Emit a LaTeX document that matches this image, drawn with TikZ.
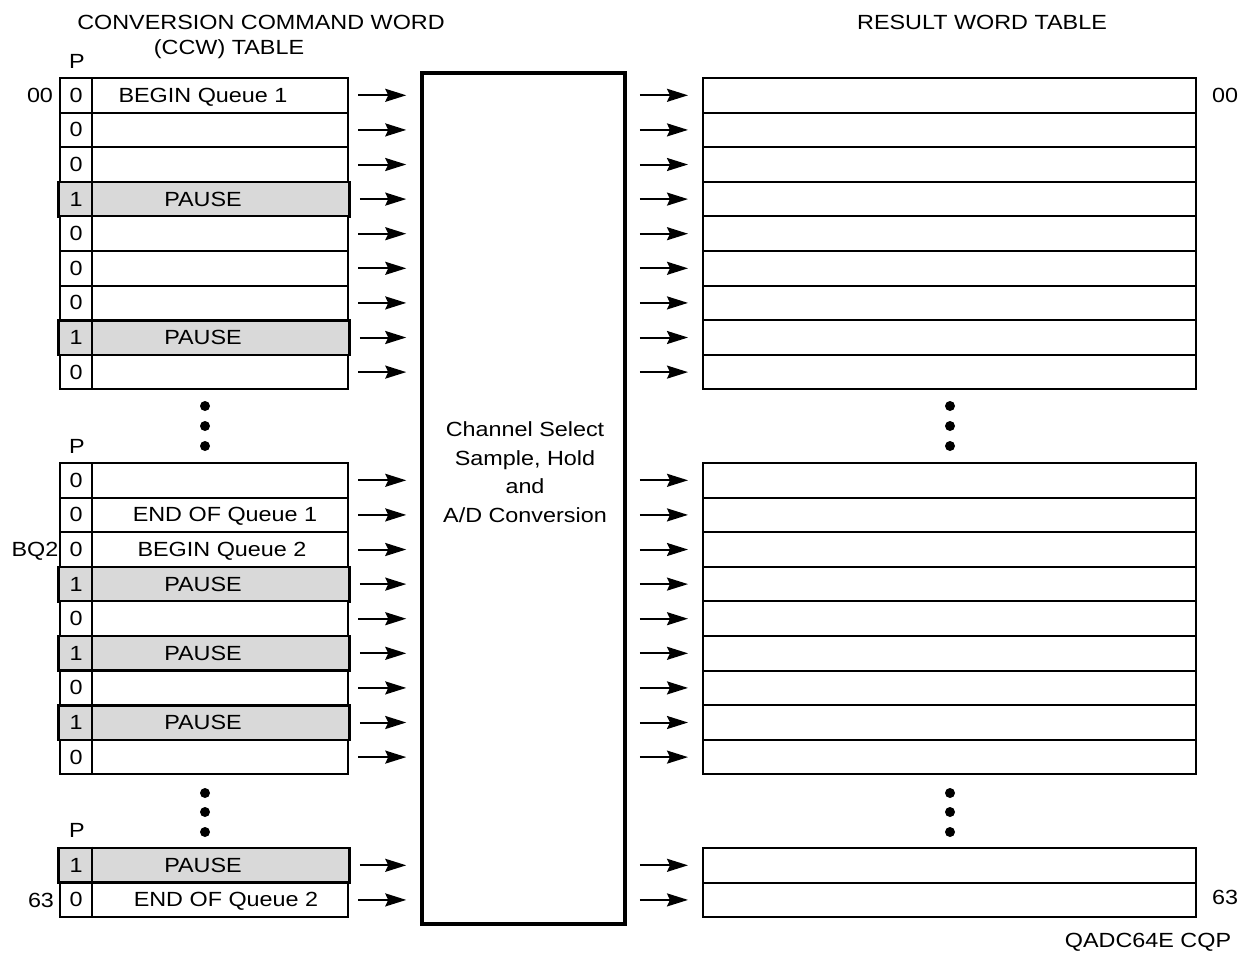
\documentclass[tikz,border=0pt]{standalone}
\usepackage{fontspec}
\setmainfont{Liberation Sans}[FakeStretch=1.14]
\usetikzlibrary{arrows.meta, positioning, calc}
\definecolor{cshade}{HTML}{D9D9D9}
\tikzset{
  every picture/.style={font=\fontsize{20.5}{28.5}\selectfont, line width=2pt},
  cell0/.style={draw, fill=white, minimum width=288pt, minimum height=34.6pt, inner sep=0pt},
  cell1/.style={cell0, fill=cshade, minimum width=291pt, line width=2.6pt},
  res/.style={draw, minimum width=493pt, minimum height=34.6pt, inner sep=0pt},
  adcbox/.style={draw, line width=3.5pt, minimum width=203pt, minimum height=851pt, inner sep=0pt},
  arrow/.style={-{Stealth[length=21pt, width=13pt, inset=3pt]}, line width=2pt},
  lbl/.style={anchor=base, yshift=-7pt, inner sep=0pt},
}

\begin{document}
\begin{tikzpicture}[x=1pt, y=-1pt]
  \useasboundingbox (0,0) rectangle (1247,962);
  % converter in the middle
  \node[adcbox] (adc) at (523.5,498.5) {};
  \node[align=center, inner sep=0pt] (adctxt) at (525,472) {Channel Select\\Sample, Hold\\and\\A/D Conversion};
  % titles
  \node[lbl] (ttlccw) at (261,22) {CONVERSION COMMAND WORD};
  \node[lbl] (ttlccwb) at (229,47) {(CCW) TABLE};
  \node[lbl] (ttlres) at (982,22) {RESULT WORD TABLE};
  \node[lbl] (figid) at (1148,940) {QADC64E CQP};
  \foreach \n/\yp in {A/61, B/446, C/830}
    \node[lbl] (phead\n) at (77,\yp) {P};
  % ccw rows, result rows and arrows
  \foreach \blk/\yt/\list in {
     A/78/{0/203/BEGIN Queue 1, 0/0/, 0/0/, 1/203/PAUSE, 0/0/, 0/0/, 0/0/, 1/203/PAUSE, 0/0/},
     B/463/{0/0/, 0/225/END OF Queue 1, 0/222/BEGIN Queue 2, 1/203/PAUSE, 0/0/, 1/203/PAUSE, 0/0/, 1/203/PAUSE, 0/0/},
     C/848/{1/203/PAUSE, 0/226/END OF Queue 2}} {
    \foreach \p/\tx/\txt [count=\k] in \list {
      \pgfmathsetmacro\y{\yt+34.6*(\k-0.5)}
      \node[cell\p] (ccw\blk\k) at (204,\y) {};
      \draw ([xshift=-112pt]ccw\blk\k.north) -- ([xshift=-112pt]ccw\blk\k.south);
      \node[lbl] (pbit\blk\k) at (76,\y) {\p};
      \node[lbl] (cmd\blk\k) at (\tx,\y) {\txt};
      \node[res] (res\blk\k) at (949.5,\y) {};
      \draw[arrow, shorten <=9pt, shorten >=14pt] (ccw\blk\k.east) -- (ccw\blk\k.east -| adc.west);
      \draw[arrow, shorten <=13pt, shorten >=14pt] (res\blk\k.west -| adc.east) -- (res\blk\k.west);
    }
  }
  % side labels
  \node[lbl] (lft00) at (40,95) {00};
  \node[lbl] (lftbq) at (35,549) {BQ2};
  \node[lbl] (lft63) at (41,900) {63};
  \node[lbl] (rgt00) at (1225,95) {00};
  \node[lbl] (rgt63) at (1225,897) {63};
  % ellipsis dots
  \foreach \x in {205, 950}
    \foreach \yd in {406, 426, 446, 793, 812, 832}
      \fill (\x,\yd) circle (5);
\end{tikzpicture}
\end{document}
